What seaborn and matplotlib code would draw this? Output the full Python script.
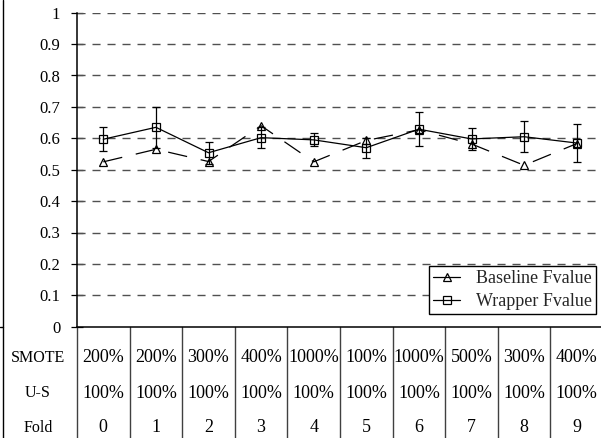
import matplotlib
matplotlib.use("Agg")
import matplotlib.pyplot as plt
from matplotlib.lines import Line2D
import matplotlib.transforms as mtransforms
import seaborn as sns
import pandas as pd

# ---- data ----
folds = [0, 1, 2, 3, 4, 5, 6, 7, 8, 9]
smote = ["200%", "200%", "300%", "400%", "1000%", "100%", "1000%", "500%", "300%", "400%"]
undersample = ["100%", "100%", "100%", "100%", "100%", "100%", "100%", "100%", "100%", "100%"]
baseline = [0.525, 0.565, 0.526, 0.640, 0.525, 0.593, 0.627, 0.582, 0.514, 0.583]
wrapper = [0.597, 0.635, 0.554, 0.602, 0.595, 0.570, 0.629, 0.598, 0.605, 0.585]
wrapper_err = [0.039, 0.065, 0.035, 0.034, 0.021, 0.032, 0.055, 0.036, 0.050, 0.059]
yticks = [0, 0.1, 0.2, 0.3, 0.4, 0.5, 0.6, 0.7, 0.8, 0.9, 1]
ytick_labels = ["0", "0.1", "0.2", "0.3", "0.4", "0.5", "0.6", "0.7", "0.8", "0.9", "1"]
row_labels = ["SMOTE", "U-S", "Fold"]
series_names = ["Baseline Fvalue", "Wrapper Fvalue"]

sns.set_theme(style="white")
plt.rcParams["font.family"] = ["Liberation Serif", "DejaVu Serif"]
plt.rcParams["lines.scale_dashes"] = False

df = pd.DataFrame({
    "fold": folds * 2,
    "value": baseline + wrapper,
    "series": [series_names[0]] * 10 + [series_names[1]] * 10,
})

W, H = 601, 438
fig = plt.figure(figsize=(W / 100, H / 100), dpi=100)
ax_left, ax_right = 77, 603
ax_top, ax_bot = 12.7, 326.7
ax = fig.add_axes([ax_left / W, 1 - ax_bot / H, (ax_right - ax_left) / W, (ax_bot - ax_top) / H])

# gridlines
for yv in yticks[1:]:
    ax.axhline(yv, color="#505050", lw=1.0, dashes=(5.8, 5.0), zorder=1)

sns.lineplot(data=df, x="fold", y="value", hue="series", style="series",
             palette={series_names[0]: "black", series_names[1]: "black"},
             dashes={series_names[0]: (14, 10), series_names[1]: ""},
             markers={series_names[0]: "^", series_names[1]: "s"},
             markersize=5.5, markerfacecolor="none", markeredgecolor="black",
             markeredgewidth=0.9, linewidth=0.9, ax=ax, legend=False, zorder=3)

ax.errorbar(folds, wrapper, yerr=wrapper_err, fmt="none", ecolor="black",
            elinewidth=0.9, capsize=3, capthick=0.9, zorder=3)

ax.set_xlim(-0.5, 9.5)
ax.set_ylim(0, 1)
ax.set_yticks(yticks)
ax.set_yticklabels(ytick_labels)
ax.set_xticks([])
ax.set_xlabel("")
ax.set_ylabel("")
ax.tick_params(axis="y", direction="inout", length=8, width=0.9, pad=8,
               labelsize=12, left=True, colors="black")
for s in ["top", "right"]:
    ax.spines[s].set_visible(False)
for s in ["left", "bottom"]:
    ax.spines[s].set_color("black")
    ax.spines[s].set_linewidth(1.1)

# legend
handles = [
    Line2D([], [], color="black", lw=0.9, marker="^", markersize=5.5, mfc="none", mew=0.9),
    Line2D([], [], color="black", lw=0.9, marker="s", markersize=5.5, mfc="none", mew=0.9),
]
leg = ax.legend(handles, series_names, loc="lower right",
                bbox_to_anchor=(596 / W, 1 - 314 / H), bbox_transform=fig.transFigure,
                fontsize=13, frameon=True, fancybox=False, framealpha=1,
                edgecolor="black", borderpad=0.2, labelspacing=0.35,
                handlelength=1.5, handletextpad=0.9, borderaxespad=0)
leg.get_frame().set_linewidth(1.0)
leg.set_zorder(5)

# table under the plot
trans = mtransforms.blended_transform_factory(ax.transData, ax.transAxes)
ax_h = ax_bot - ax_top
def ypix_to_axes(yp):
    return (ax_bot - yp) / ax_h

table_bottom = ypix_to_axes(H + 2)
for i in range(11):
    xb = i - 0.5
    ax.add_line(Line2D([xb, xb], [0, table_bottom], transform=trans, color="#404040",
                       lw=1.0, clip_on=False, zorder=2))
row_y = [358, 393, 428]
for row_vals, yp in zip([smote, undersample, folds], row_y):
    for i, v in enumerate(row_vals):
        ax.text(folds[i], ypix_to_axes(yp), str(v), transform=trans, ha="center",
                va="center", fontsize=13, color="black", clip_on=False)
for lab, yp in zip(row_labels, row_y):
    fig.text(38 / W, 1 - yp / H, lab, ha="center", va="center", fontsize=11.5, color="black")

# outer left border fragment
fig.add_artist(Line2D([3 / W, 3 / W], [1, 0], transform=fig.transFigure,
                      color="black", lw=1.0))
fig.add_artist(Line2D([0, 3 / W], [1 - ax_bot / H, 1 - ax_bot / H], transform=fig.transFigure,
                      color="black", lw=1.0))

fig.savefig("out.png", dpi=100, facecolor="white")
